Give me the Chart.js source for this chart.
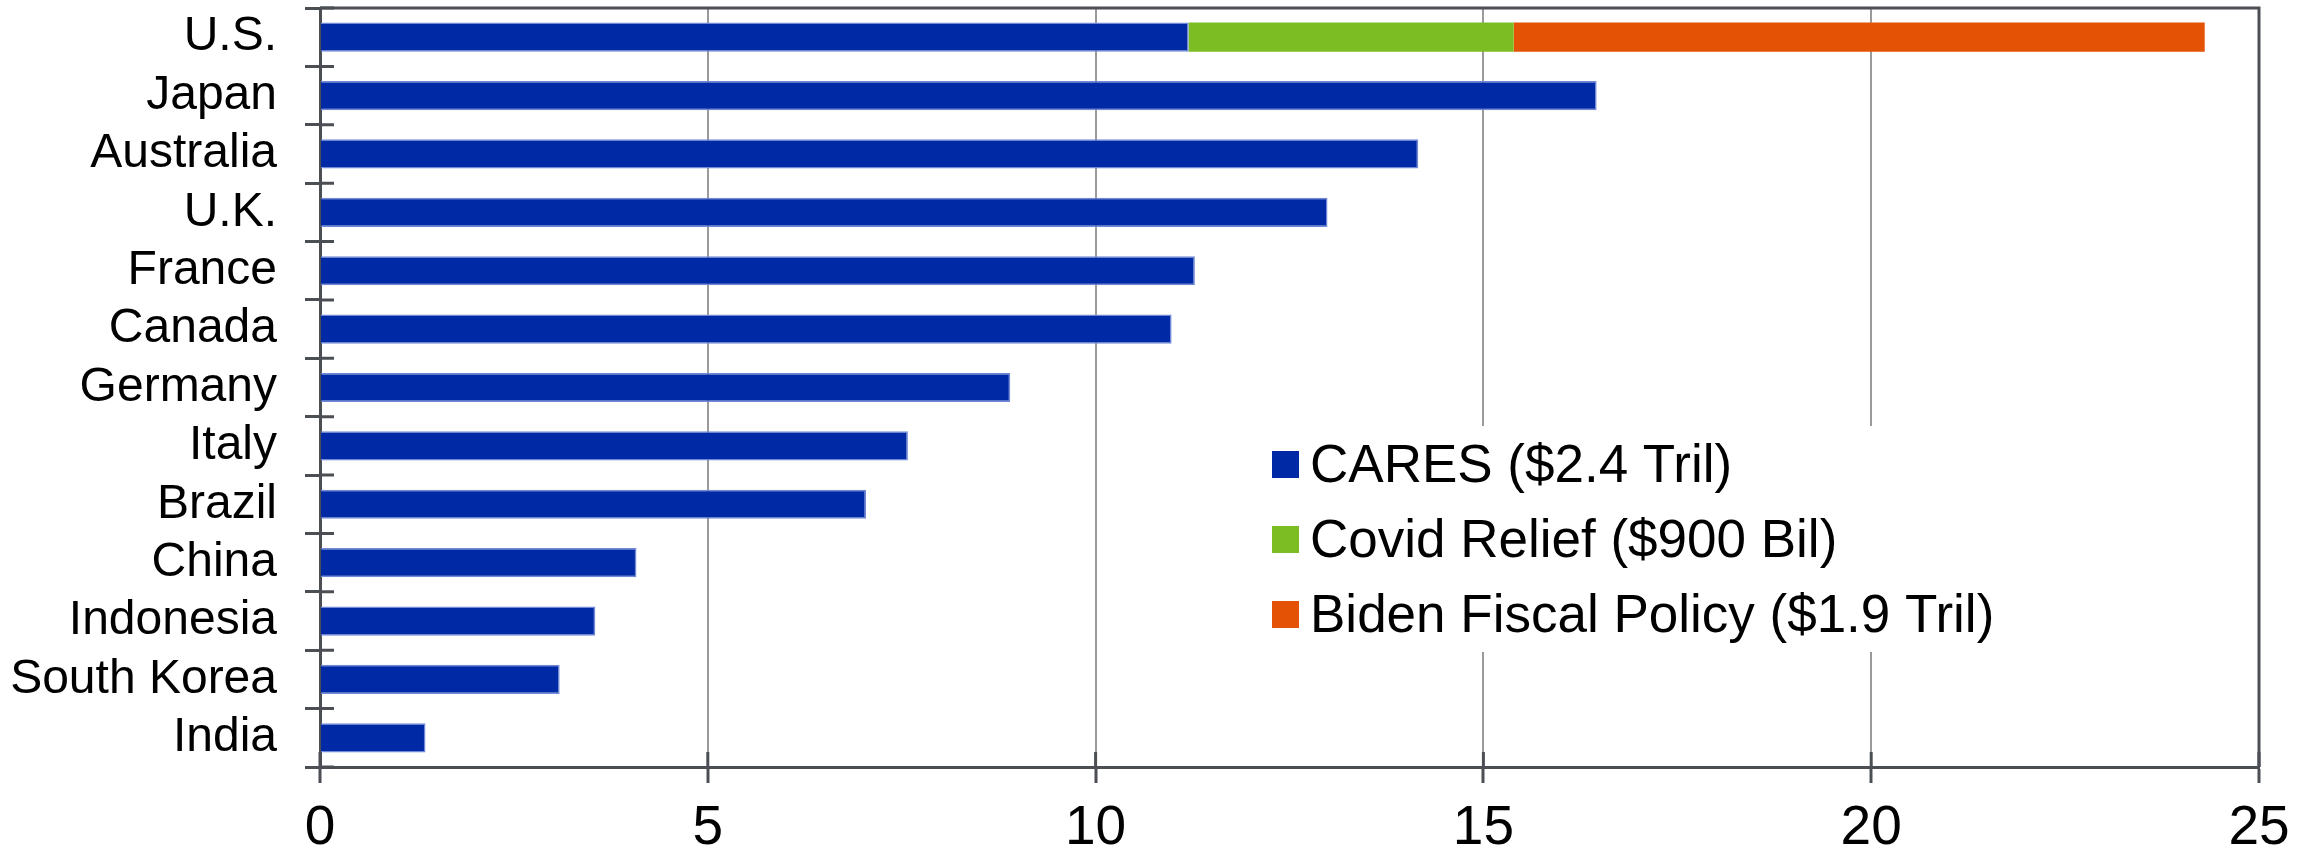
<!DOCTYPE html>
<html>
<head>
<meta charset="utf-8">
<script src="https://cdn.jsdelivr.net/npm/chart.js@4.4.1/dist/chart.umd.min.js"></script>
<style>
  html, body { margin: 0; padding: 0; background: #fff; }
  #wrap { width: 2315px; height: 854px; position: relative; }
</style>
</head>
<body>
<div id="wrap"><canvas id="myChart"></canvas></div>
<script>
const countries = ['U.S.', 'Japan', 'Australia', 'U.K.', 'France', 'Canada', 'Germany', 'Italy', 'Brazil', 'China', 'Indonesia', 'South Korea', 'India'];
const caresValues = [11.2, 16.46, 14.16, 12.99, 11.28, 10.98, 8.9, 7.58, 7.04, 4.08, 3.55, 3.09, 1.36];
const covidValues = [4.19, null, null, null, null, null, null, null, null, null, null, null, null];
const bidenValues = [8.91, null, null, null, null, null, null, null, null, null, null, null, null];
const xTicks = [0, 5, 10, 15, 20, 25];

const axisColor = '#4b4f54';
const gridColor = '#9a9a9a';
const font = 'Liberation Sans, Arial, sans-serif';

// top/right frame, inner halves of the tick marks and the boxed legend
const framePlugin = {
    id: 'frame',
    afterDraw(chart) {
        const ctx = chart.ctx;
        const a = chart.chartArea;
        const y = chart.scales.y;
        const x = chart.scales.x;
        ctx.save();
        ctx.strokeStyle = axisColor;
        ctx.lineWidth = 3;
        ctx.beginPath();
        ctx.moveTo(a.left, a.top);
        ctx.lineTo(a.right, a.top);
        ctx.lineTo(a.right, a.bottom);
        ctx.stroke();

        ctx.beginPath();
        for (let i = 0; i <= countries.length; i++) {
            const py = y.getPixelForValue(i - 0.5);
            ctx.moveTo(a.left, py);
            ctx.lineTo(a.left + 14, py);
        }
        xTicks.forEach(v => {
            const px = x.getPixelForValue(v);
            ctx.moveTo(px, a.bottom);
            ctx.lineTo(px, a.bottom - 15);
        });
        ctx.stroke();

        // legend
        ctx.fillStyle = '#fff';
        ctx.fillRect(1254, 426, 776, 226);
        ctx.font = '53px ' + font;
        ctx.textBaseline = 'alphabetic';
        ctx.textAlign = 'left';
        chart.data.datasets.forEach((ds, i) => {
            const cy = 464.5 + i * 75;
            ctx.fillStyle = ds.backgroundColor;
            ctx.fillRect(1272, cy - 13.5, 27, 27);
            ctx.fillStyle = '#000';
            ctx.fillText(ds.label, 1310, cy + 17);
        });
        ctx.restore();
    }
};

const myChartNode = document.getElementById('myChart').getContext('2d');
const myChart = new Chart(myChartNode, {
    type: 'bar',
    data: {
        labels: countries,
        datasets: [
            {
                label: 'CARES ($2.4 Tril)',
                data: caresValues,
                backgroundColor: '#0029a5',
                borderColor: '#7088d6',
                borderWidth: 1.5
            },
            {
                label: 'Covid Relief ($900 Bil)',
                data: covidValues,
                backgroundColor: '#7bbd22',
                borderWidth: 0
            },
            {
                label: 'Biden Fiscal Policy ($1.9 Tril)',
                data: bidenValues,
                backgroundColor: '#e35205',
                borderWidth: 0
            }
        ]
    },
    options: {
        indexAxis: 'y',
        responsive: true,
        maintainAspectRatio: false,
        animation: false,
        devicePixelRatio: 1,
        layout: {
            padding: { top: 8, right: 56, left: 0, bottom: 0 }
        },
        datasets: {
            bar: {
                barPercentage: 0.5,
                categoryPercentage: 1.0
            }
        },
        plugins: {
            legend: { display: false },
            tooltip: { enabled: false }
        },
        scales: {
            x: {
                stacked: true,
                min: 0,
                max: 25,
                afterFit: (scale) => { scale.height = 87; },
                afterBuildTicks: (scale) => { scale.ticks = xTicks.map(v => ({ value: v })); },
                ticks: {
                    color: '#000',
                    padding: 13,
                    font: { family: font, size: 55 }
                },
                grid: {
                    color: (c) => (c.tick && (c.tick.value === 0 || c.tick.value === 25)) ? 'rgba(0,0,0,0)' : gridColor,
                    lineWidth: 2,
                    tickColor: axisColor,
                    tickWidth: 3,
                    tickLength: 16
                },
                border: { display: true, color: axisColor, width: 3 }
            },
            y: {
                stacked: true,
                afterFit: (scale) => {
                    scale.width = 320;
                    scale.paddingTop = 0;
                    scale.paddingBottom = 0;
                },
                ticks: {
                    color: '#000',
                    padding: 28,
                    autoSkip: false,
                    font: { family: font, size: 48 }
                },
                grid: {
                    offset: true,
                    drawOnChartArea: false,
                    tickColor: axisColor,
                    tickWidth: 3,
                    tickLength: 15
                },
                border: { display: true, color: axisColor, width: 3 }
            }
        }
    },
    plugins: [framePlugin]
});
</script>
</body>
</html>
